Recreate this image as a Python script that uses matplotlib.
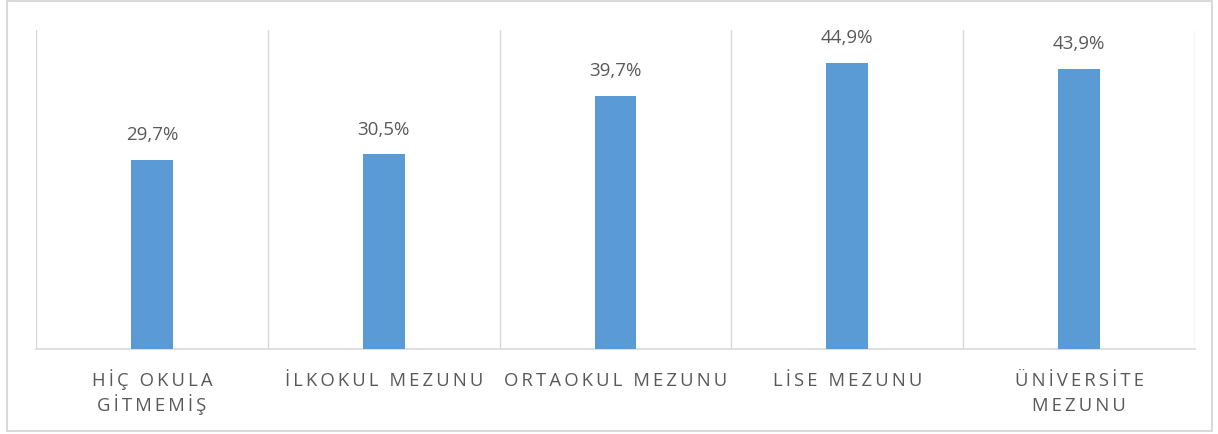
import matplotlib
matplotlib.use('Agg')
import matplotlib.pyplot as plt
from matplotlib.patches import Rectangle

categories = ['HİÇ OKULA\nGİTMEMİŞ', 'İLKOKUL MEZUNU', 'ORTAOKUL MEZUNU',
              'LİSE MEZUNU', 'ÜNİVERSİTE\nMEZUNU']
values = [29.7, 30.5, 39.7, 44.9, 43.9]

BAR_COLOR = '#5B9BD5'
GRID_COLOR = '#D9D9D9'
TEXT_COLOR = '#595959'
FONTS = ['Open Sans', 'DejaVu Sans']


def spaced(line):
    # imitate letter spacing with thin spaces between the characters
    return '\u2009'.join(line)


fig = plt.figure(figsize=(12.18, 4.35), dpi=100)
fig.patches.append(Rectangle((0.006, 0.008), 0.989, 0.988, transform=fig.transFigure,
                             fill=False, edgecolor=GRID_COLOR, linewidth=1.5))

ax = fig.add_axes([0.0296, 0.1954, 0.9515, 0.7333])
x = list(range(len(categories)))
ax.bar(x, values, width=0.18, color=BAR_COLOR, zorder=3)

ax.set_xlim(-0.5, len(categories) - 0.5)
ax.set_ylim(0, 50)

# category separators
for b in range(len(categories) + 1):
    ax.axvline(b - 0.5, color=GRID_COLOR, linewidth=1, zorder=1)

for i, v in enumerate(values):
    ax.text(i, v + 2.6, f'{v:.1f}%'.replace('.', ','), ha='center', va='bottom',
            fontsize=13.5, color=TEXT_COLOR, family=FONTS)

# category labels, one text per line so every first line shares a baseline
for i, cat in enumerate(categories):
    for k, line in enumerate(cat.split('\n')):
        ax.annotate(spaced(line), xy=(i, 0), xycoords=('data', 'axes fraction'),
                    xytext=(0, -26 - 18 * k), textcoords='offset points',
                    ha='center', va='baseline', fontsize=13.3, color=TEXT_COLOR,
                    family=FONTS, annotation_clip=False)

ax.set_xticks([])
ax.set_yticks([])

for side in ['top', 'right', 'left']:
    ax.spines[side].set_visible(False)
ax.spines['bottom'].set_color(GRID_COLOR)
ax.spines['bottom'].set_linewidth(1.2)

fig.savefig('out.png', dpi=100)
